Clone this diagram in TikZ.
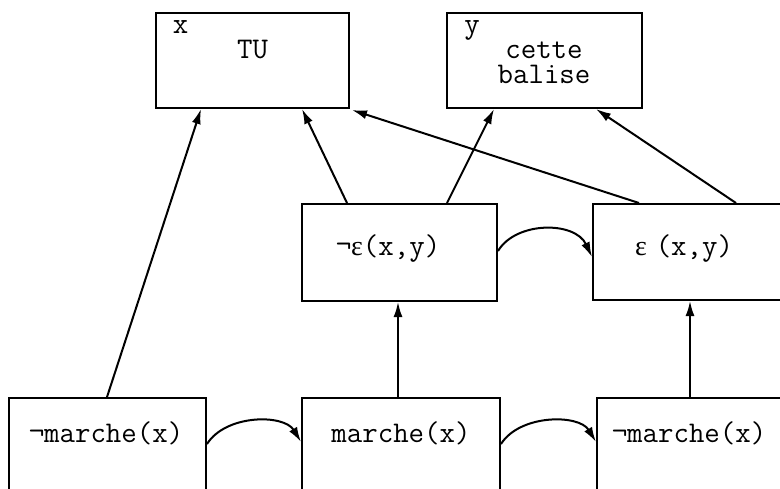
\documentclass[tikz,border=0pt]{standalone}
\usepackage{fontspec}
\newfontfamily\grk{Liberation Serif}
\usetikzlibrary{arrows.meta,calc}
\begin{document}
\begin{tikzpicture}[x=1pt,y=-1pt,
  box/.style={draw,line width=2pt,inner sep=0pt},
  lbl/.style={font=\ttfamily\fontsize{30}{25}\selectfont,inner sep=0pt,anchor=base},
  arr/.style={line width=2pt,-{Latex[length=15pt,width=9pt]}}]
\useasboundingbox (0,0) rectangle (780,488);
\clip (0,0) rectangle (780,488);
% boxes
\node[box,minimum width=193pt,minimum height=95pt] (tu) at (252.5,60.5) {};
\node[box,minimum width=195pt,minimum height=95pt] (cb) at (544.5,60.5) {};
\node[box,minimum width=195pt,minimum height=97pt] (ne) at (399.5,252.5) {};
\node[box,minimum width=200pt,minimum height=96pt] (ep) at (693,252) {};
\node[box,minimum width=197pt,minimum height=102pt] (m1) at (107.5,449) {};
\node[box,minimum width=198pt,minimum height=102pt] (m2) at (401,449) {};
\node[box,minimum width=198pt,minimum height=102pt] (m3) at (696,449) {};
% labels
\node[lbl] (tx) at (180.5,33) {x};
\node[lbl] (tTU) at (252.5,58) {TU};
\node[lbl] (ty) at (472,33) {y};
\node[lbl,align=center] (tcb) at (544,83) {cette\\balise};
\node[lbl] (tne) at (388,255) {¬{\grk\fontsize{28}{32}\selectfont ε}(x,y)};
\node[lbl] (tep) at (684,255) {{\grk\fontsize{28}{32}\selectfont ε}\hspace{0.3em}(x,y)};
\node[lbl] (tm1) at (106,442) {¬marche(x)};
\node[lbl] (tm2) at (401,442) {marche(x)};
\node[lbl] (tm3) at (689,442) {¬marche(x)};
% straight arrows
\draw[arr] ($(m1.north west)+(99,0)$) -- ($(tu.south west)+(46,0)$);
\draw[arr] ($(ne.north west)+(46,0)$) -- ($(tu.south west)+(147,0)$);
\draw[arr] ($(ne.north west)+(146,0)$) -- ($(cb.south west)+(48,0)$);
\draw[arr] ($(ep.north west)+(47,0)$) -- ($(tu.south east)+(2,1)$);
\draw[arr] ($(ep.north west)+(144,0)$) -- ($(cb.south west)+(150,0)$);
\draw[arr] ($(m2.north west)+(97,0)$) -- ($(ne.south west)+(97,0)$);
\draw[arr] ($(m3.north west)+(94,0)$) -- ($(ep.south west)+(98,0)$);
% curved arrows
\draw[arr] ($(m1.north east)+(0,47)$) .. controls +(19,-30) and +(-17,-28) .. ($(m2.north west)+(0,45)$);
\draw[arr] ($(m2.north east)+(0,47)$) .. controls +(19,-30) and +(-17,-28) .. ($(m3.north west)+(0,45)$);
\draw[arr] ($(ne.north east)+(0,48)$) .. controls +(18,-30) and +(-17,-36) .. ($(ep.north west)+(0,54)$);
\end{tikzpicture}
\end{document}
